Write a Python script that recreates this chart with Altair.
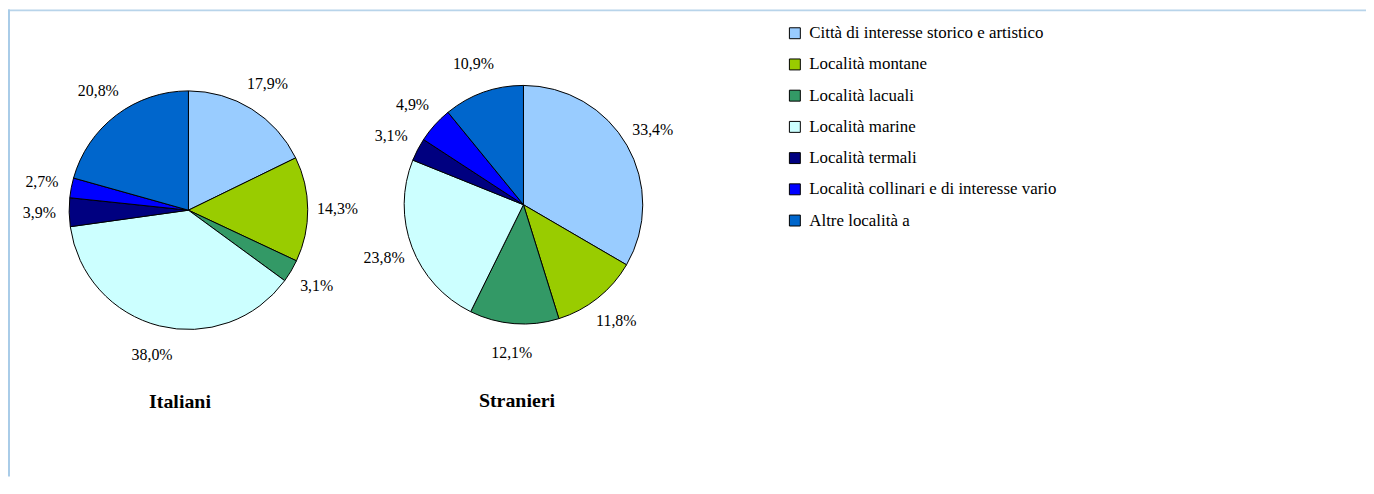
import altair as alt
import pandas as pd

categories = [
    "Città di interesse storico e artistico",
    "Località montane",
    "Località lacuali",
    "Località marine",
    "Località termali",
    "Località collinari e di interesse vario",
    "Altre località a",
]
colors = ["#99CCFF", "#99CC00", "#339966", "#CCFFFF", "#000080", "#0000FF", "#0066CC"]
groups = ["Italiani", "Stranieri"]
italiani = [17.9, 14.3, 3.1, 38.0, 3.9, 2.7, 20.8]
stranieri = [33.4, 11.8, 12.1, 23.8, 3.1, 4.9, 10.9]

rows = []
for g, vals in zip(groups, [italiani, stranieri]):
    for i, (c, v) in enumerate(zip(categories, vals)):
        rows.append({"group": g, "cat": c, "order": i, "value": v,
                     "label": f"{v:.1f}".replace(".", ",") + "%"})
df = pd.DataFrame(rows)

FONT = "Liberation Serif"
W, H = 1366, 470
R = 120
LR = 150
centers = {"Italiani": (181.5, 202), "Stranieri": (518.5, 196.5)}
title_pos = {"Italiani": (173, 395), "Stranieri": (512, 394)}

color = alt.Color(
    "cat:N",
    scale=alt.Scale(domain=categories, range=colors),
    legend=alt.Legend(
        title=None, orient="none", legendX=783, legendY=15.5, padding=0,
        symbolType="square", symbolSize=121, symbolStrokeColor="black",
        symbolStrokeWidth=1, symbolOpacity=1, labelFont=FONT, labelFontSize=17,
        labelColor="black", labelOffset=6, rowPadding=13.4, labelLimit=500,
    ),
)

layers = []
border = alt.Chart(pd.DataFrame({"k": [0]}))
layers.append(border.mark_rule(color="#B8D4EA", strokeWidth=2).encode(
    x=alt.value(0), x2=alt.value(W), y=alt.value(1)))
layers.append(border.mark_rule(color="#A9CCE8", strokeWidth=2).encode(
    x=alt.value(1), y=alt.value(0), y2=alt.value(H)))

for g in groups:
    cx, cy = centers[g]
    base = alt.Chart(df).transform_filter(alt.datum.group == g).encode(
        theta=alt.Theta("value:Q", stack=True),
        order=alt.Order("order:Q"),
        detail="cat:N",
        x=alt.value(cx), y=alt.value(cy),
    )
    layers.append(base.mark_arc(outerRadius=R, stroke="black", strokeWidth=1).encode(color=color))
    layers.append(base.mark_text(radius=LR, font=FONT, fontSize=16, color="black").encode(text="label:N"))
    tx, ty = title_pos[g]
    layers.append(
        alt.Chart(df)
        .transform_filter((alt.datum.group == g) & (alt.datum.order == 0))
        .mark_text(font=FONT, fontSize=20, fontWeight="bold", color="black")
        .encode(text="group:N", x=alt.value(tx), y=alt.value(ty))
    )

chart = (
    alt.layer(*layers)
    .resolve_scale(theta="independent")
    .properties(width=W, height=H, autosize=alt.AutoSizeParams(type="none"), padding=0,
                background="white")
    .configure_view(stroke=None)
    .configure_legend(labelFont=FONT)
)

chart.save("out.html", embed_options={"renderer": "svg", "actions": False})
